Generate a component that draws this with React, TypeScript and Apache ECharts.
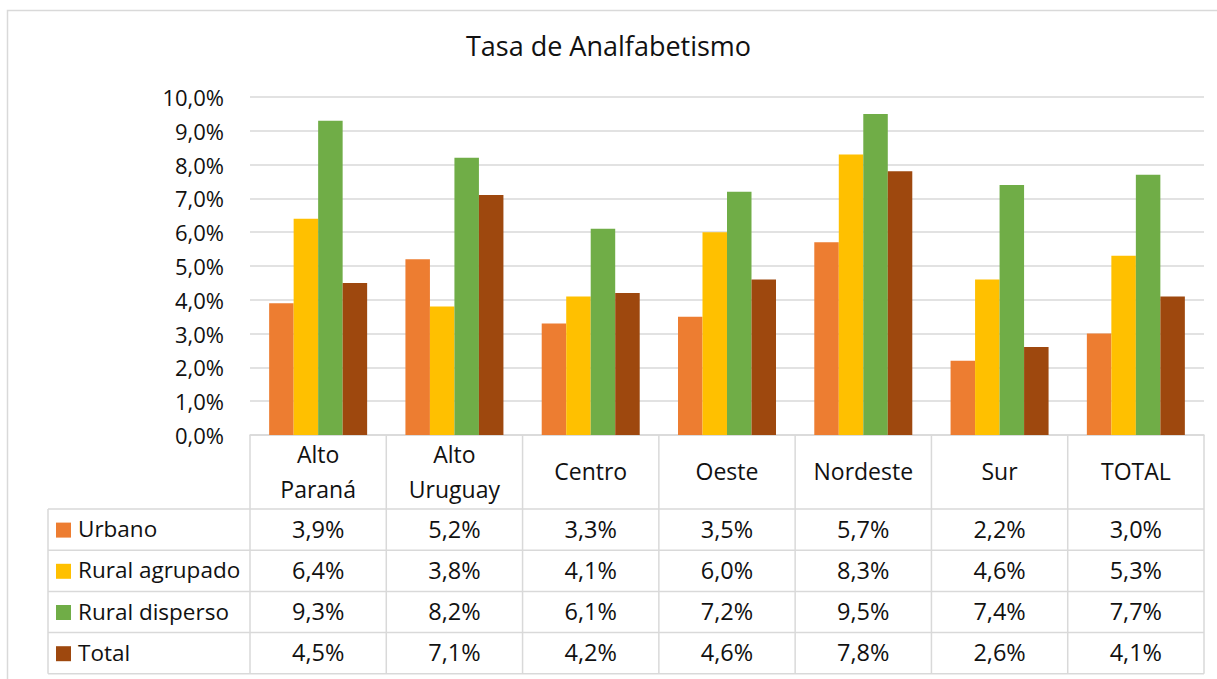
import React, { useEffect, useRef } from "react";
import * as echarts from "echarts";

const title = "Tasa de Analfabetismo";
const categories = ["Alto\nParaná", "Alto\nUruguay", "Centro", "Oeste", "Nordeste", "Sur", "TOTAL"];
const seriesNames = ["Urbano", "Rural agrupado", "Rural disperso", "Total"];
const urbano = [3.9, 5.2, 3.3, 3.5, 5.7, 2.2, 3.0];
const ruralAgrupado = [6.4, 3.8, 4.1, 6.0, 8.3, 4.6, 5.3];
const ruralDisperso = [9.3, 8.2, 6.1, 7.2, 9.5, 7.4, 7.7];
const total = [4.5, 7.1, 4.2, 4.6, 7.8, 2.6, 4.1];
const seriesData = [urbano, ruralAgrupado, ruralDisperso, total];
const colors = ["#ED7D31", "#FFC000", "#70AD47", "#9E480E"];
const yTicks = [0, 10, 1];

const FONT = "'Open Sans', sans-serif";
const W = 1217;
const H = 679;
const GL = 250;
const GR = 1204;
const GT = 97;
const GB = 435;
const LEG_L = 48;
const HEADER_B = 509;
const ROW_H = 41.2;
const LINE = "#D9D9D9";
const TXT = "#111111";

const fmt = (v: number) => v.toFixed(1).replace(".", ",") + "%";

export default function App() {
  const ref = useRef<HTMLDivElement>(null);
  useEffect(() => {
    const chart = echarts.init(ref.current!, null, { renderer: "svg" });
    const colW = (GR - GL) / categories.length;
    const g: any[] = [];
    g.push({ type: "rect", shape: { x: 7.5, y: 10.5, width: 1260, height: 720 }, style: { fill: "none", stroke: "#D9D9D9", lineWidth: 1.5 }, silent: true });
    for (let r = 0; r <= seriesNames.length; r++) {
      const y = HEADER_B + r * ROW_H;
      g.push({ type: "line", shape: { x1: LEG_L, y1: y, x2: GR, y2: y }, style: { stroke: LINE, lineWidth: 1.5 }, silent: true });
    }
    g.push({ type: "line", shape: { x1: LEG_L, y1: HEADER_B, x2: LEG_L, y2: HEADER_B + seriesNames.length * ROW_H }, style: { stroke: LINE, lineWidth: 1.5 }, silent: true });
    for (let i = 0; i <= categories.length; i++) {
      const x = GL + i * colW;
      g.push({ type: "line", shape: { x1: x, y1: GB, x2: x, y2: HEADER_B + seriesNames.length * ROW_H }, style: { stroke: LINE, lineWidth: 1.5 }, silent: true });
    }
    categories.forEach((c, i) => {
      g.push({
        type: "text",
        x: GL + (i + 0.5) * colW,
        y: (GB + HEADER_B) / 2 - 1,
        style: { text: c, font: `23px ${FONT}`, fill: TXT, align: "center", verticalAlign: "middle", lineHeight: 35 },
        silent: true,
      });
    });
    seriesNames.forEach((name, r) => {
      const cy = HEADER_B + (r + 0.5) * ROW_H;
      g.push({ type: "rect", shape: { x: 56, y: cy - 7, width: 15, height: 15 }, style: { fill: colors[r] }, silent: true });
      g.push({ type: "text", x: 78, y: cy - 1, style: { text: name, font: `22.5px ${FONT}`, fill: TXT, align: "left", verticalAlign: "middle" }, silent: true });
      seriesData[r].forEach((v, i) => {
        g.push({
          type: "text",
          x: GL + (i + 0.5) * colW,
          y: cy - 1,
          style: { text: fmt(v), font: `23.5px ${FONT}`, fill: TXT, align: "center", verticalAlign: "middle" },
          silent: true,
        });
      });
    });

    chart.setOption({
      animation: false,
      backgroundColor: "#fff",
      title: {
        text: title,
        left: "center",
        top: 27,
        textStyle: { fontFamily: FONT, fontSize: 27, fontWeight: "normal", color: TXT },
      },
      grid: { left: GL, right: W - GR, top: GT, bottom: H - GB, containLabel: false },
      xAxis: {
        type: "category",
        data: categories,
        axisLine: { show: true, lineStyle: { color: LINE, width: 1.5 } },
        axisTick: { show: false },
        axisLabel: { show: false },
      },
      yAxis: {
        type: "value",
        min: yTicks[0],
        max: yTicks[1],
        interval: yTicks[2],
        axisLine: { show: false },
        axisTick: { show: false },
        splitLine: { lineStyle: { color: LINE, width: 1.5 } },
        axisLabel: { formatter: (v: number) => fmt(v), fontFamily: FONT, fontSize: 22, color: TXT, margin: 26 },
      },
      series: seriesNames.map((n, i) => ({
        name: n,
        type: "bar",
        data: seriesData[i],
        barWidth: 24.5,
        barGap: "0%",
        itemStyle: { color: colors[i] },
      })),
      graphic: g,
    });
    return () => chart.dispose();
  }, []);
  return <div ref={ref} style={{ position: "fixed", left: 0, top: 0, width: W, height: H }} />;
}
